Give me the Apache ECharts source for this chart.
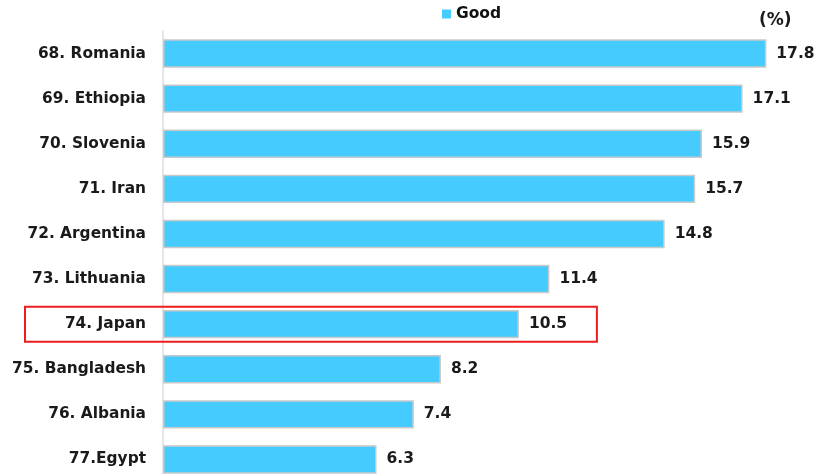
<!DOCTYPE html>
<html>
<head>
<meta charset="utf-8">
<script src="https://cdn.jsdelivr.net/npm/echarts@6/dist/echarts.min.js"></script>
<style>
  html, body { margin: 0; padding: 0; background: #ffffff; }
  #chart { width: 816px; height: 474px; }
</style>
</head>
<body>
<div id="chart"></div>
<script>
// Countries, top to bottom
const categories = [
  '68. Romania', '69. Ethiopia', '70. Slovenia', '71. Iran', '72. Argentina',
  '73. Lithuania', '74. Japan', '75. Bangladesh', '76. Albania', '77.Egypt'
];
// Share answering "Good" (%)
const goodValues = [17.8, 17.1, 15.9, 15.7, 14.8, 11.4, 10.5, 8.2, 7.4, 6.3];
const seriesName = 'Good';
const unitLabel = '(%)';
const highlighted = '74. Japan';

const FONT = '"DejaVu Sans", Verdana, sans-serif';
const chart = echarts.init(document.getElementById('chart'), null, { renderer: 'canvas' });

const option = {
  animation: false,
  backgroundColor: '#ffffff',
  textStyle: { fontFamily: FONT },
  legend: {
    data: [seriesName],
    top: 1,
    left: 437,
    itemWidth: 9,
    itemHeight: 9,
    itemGap: 4,
    icon: 'rect',
    itemStyle: { borderWidth: 0 },
    textStyle: { fontFamily: FONT, fontWeight: 'bold', fontSize: 15.5, color: '#111', padding: [0, 0, 0, 0] }
  },
  grid: { left: 163, top: 31, width: 644, height: 451, containLabel: false, outerBoundsMode: 'none' },
  xAxis: {
    type: 'value',
    min: 0,
    max: 19,
    show: false
  },
  yAxis: {
    type: 'category',
    data: categories,
    inverse: true,
    axisLine: { show: true, lineStyle: { color: '#e6e6e6', width: 2 } },
    axisTick: { show: false },
    axisLabel: {
      margin: 17,
      fontFamily: FONT,
      fontWeight: 'bold',
      fontSize: 15.4,
      color: '#1a1a1a'
    }
  },
  series: [{
    name: seriesName,
    type: 'bar',
    data: goodValues,
    barCategoryGap: '37%',
    itemStyle: { color: '#45cbfd', borderColor: '#c9c9c9', borderWidth: 1.5 },
    label: {
      show: true,
      position: 'right',
      distance: 10,
      fontFamily: FONT,
      fontWeight: 'bold',
      fontSize: 15.5,
      color: '#1a1a1a',
      formatter: p => p.value.toFixed(1)
    }
  }]
};
chart.setOption(option);

// Unit caption and the outline around the highlighted row
const idx = categories.indexOf(highlighted);
const center = chart.convertToPixel({ gridIndex: 0 }, [0, idx]);
const rightEdge = chart.convertToPixel({ gridIndex: 0 }, [goodValues[idx], idx]);
chart.setOption({
  graphic: [
    {
      type: 'text',
      left: 759,
      top: 12,
      style: { text: unitLabel, font: 'bold 17px ' + FONT, fill: '#1a1a1a' }
    },
    {
      type: 'rect',
      shape: { x: 25, y: center[1] - 17.5, width: rightEdge[0] + 78 - 25, height: 35 },
      style: { fill: 'none', stroke: '#ee1c1c', lineWidth: 2 },
      z: 10
    }
  ]
});
</script>
</body>
</html>
